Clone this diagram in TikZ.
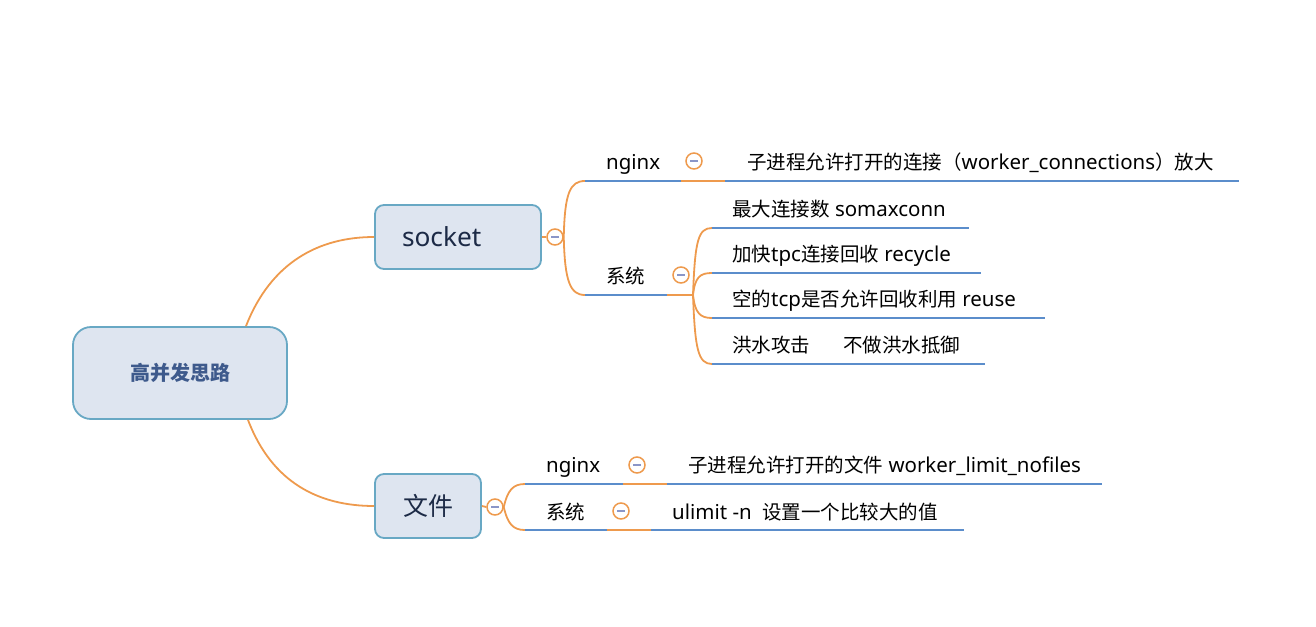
\documentclass[tikz,border=0pt]{standalone}
\usepackage{fontspec}
\setmainfont[Scale=1.05]{Noto Sans}
\newfontfamily\zh{Noto Sans CJK SC}
\usetikzlibrary{positioning}

\definecolor{linkorange}{RGB}{238,154,77}
\definecolor{lineblue}{RGB}{91,141,203}
\definecolor{boxfill}{RGB}{222,229,240}
\definecolor{boxedge}{RGB}{104,168,196}
\definecolor{roottext}{RGB}{62,90,140}
\definecolor{topictext}{RGB}{28,42,70}
\definecolor{minuscol}{RGB}{138,150,200}

\tikzset{
  rootbox/.style={draw=boxedge, fill=boxfill, line width=1.8pt, rounded corners=18pt,
    minimum width=214pt, minimum height=92pt, text=roottext,
    font=\fontsize{20}{24}\selectfont\zh\bfseries},
  topicbox/.style={draw=boxedge, fill=boxfill, line width=1.8pt, rounded corners=9pt,
    minimum height=64pt, inner xsep=27pt, text=topictext, align=left,
    font=\fontsize{25}{30}\selectfont},
  fold/.style={circle, draw=linkorange, fill=white, line width=1.5pt, minimum size=16pt,
    inner sep=0pt, path picture={\draw[minuscol, line width=1.6pt]
      ([xshift=-4pt]path picture bounding box.center) --
      ([xshift=4pt]path picture bounding box.center);}},
  leaf/.style={anchor=base west, inner sep=0pt, text=black,
    font=\fontsize{19.5}{23}\selectfont},
  branch/.style={draw=linkorange, line width=1.8pt},
  under/.style={draw=lineblue, line width=2pt},
}

\begin{document}
\begin{tikzpicture}[x=1pt,y=-1pt]
\useasboundingbox (0,0) rectangle (1316,626);

% main topics
\node[rootbox] (root) at (180,373) {高并发思路};
\node[topicbox, text width=112pt] (socket) at (458,237) {socket};
\node[topicbox, minimum width=106pt] (file) at (428,506) {\zh 文件};
\node[fold] (skfold) at (555,237) {};
\node[fold] (flfold) at (495,507) {};

\draw[branch] ([xshift=66pt]root.north) .. controls +(25,-64) and +(-55,0) .. (socket.west);
\draw[branch] ([xshift=68pt]root.south) .. controls +(24,63) and +(-55,0) .. (file.west);
\draw[branch] (socket.east) -- (skfold.west);
\draw[branch] (file.east) -- (flfold.west);

% socket -> nginx
\coordinate (sk-ngx) at (585,181);
\coordinate (sk-ngx-o) at (681,181);
\coordinate (sk-ngx-p) at (725,181);
\coordinate (sk-ngx-e) at (1239,181);
\node[leaf] (sk-ngx-t) at (606,169) {nginx};
\node[leaf] (sk-ngx-c) at (747,169) {{\zh 子进程允许打开的连接（}worker\_connections{\zh ）放大}};
\draw[branch] (skfold.east) .. controls +(1,-44) and +(-15,0) .. (sk-ngx);
\draw[under] (sk-ngx) -- (sk-ngx-o);
\draw[branch] (sk-ngx-o) -- (sk-ngx-p);
\draw[under] (sk-ngx-p) -- (sk-ngx-e);
\node[fold] (sk-ngx-f) at (694,161) {};

% socket -> 系统
\coordinate (sk-sys) at (585,295);
\coordinate (sk-sys-o) at (667,295);
\coordinate (sk-sys-p) at (693,295);
\node[leaf] (sk-sys-t) at (606,283) {\zh 系统};
\draw[branch] (skfold.east) .. controls +(1,44) and +(-15,0) .. (sk-sys);
\draw[under] (sk-sys) -- (sk-sys-o);
\draw[branch] (sk-sys-o) -- (sk-sys-p);
\node[fold] (sk-sys-f) at (681,275) {};

\coordinate (ka) at (712,228);
\coordinate (ka-e) at (969,228);
\coordinate (kb) at (712,273);
\coordinate (kb-e) at (981,273);
\coordinate (kc) at (712,318);
\coordinate (kc-e) at (1045,318);
\coordinate (kd) at (712,364);
\coordinate (kd-e) at (985,364);
\node[leaf] (ka-t) at (732,216) {{\zh 最大连接数} somaxconn};
\node[leaf] (kb-t) at (732,261) {{\zh 加快}tpc{\zh 连接回收} recycle};
\node[leaf] (kc-t) at (732,306) {{\zh 空的}tcp{\zh 是否允许回收利用} reuse};
\node[leaf] (kd-t) at (732,352) {\zh 洪水攻击\hspace{33pt}不做洪水抵御};
\draw[branch] (sk-sys-p) .. controls +(2,-54) and +(-14,0) .. (ka);
\draw[branch] (sk-sys-p) .. controls +(2,-18) and +(-12,0) .. (kb);
\draw[branch] (sk-sys-p) .. controls +(2,18) and +(-12,0) .. (kc);
\draw[branch] (sk-sys-p) .. controls +(2,54) and +(-14,0) .. (kd);
\draw[under] (ka) -- (ka-e);
\draw[under] (kb) -- (kb-e);
\draw[under] (kc) -- (kc-e);
\draw[under] (kd) -- (kd-e);

% 文件 -> nginx
\coordinate (fl-ngx) at (525,484);
\coordinate (fl-ngx-o) at (623,484);
\coordinate (fl-ngx-p) at (667,484);
\coordinate (fl-ngx-e) at (1102,484);
\node[leaf] (fl-ngx-t) at (546,472) {nginx};
\node[leaf] (fl-ngx-c) at (688,472) {{\zh 子进程允许打开的文件} worker\_limit\_nofiles};
\draw[branch] (flfold.east) .. controls +(4,-17) and +(-12,0) .. (fl-ngx);
\draw[under] (fl-ngx) -- (fl-ngx-o);
\draw[branch] (fl-ngx-o) -- (fl-ngx-p);
\draw[under] (fl-ngx-p) -- (fl-ngx-e);
\node[fold] (fl-ngx-f) at (637,465) {};

% 文件 -> 系统
\coordinate (fl-sys) at (525,530);
\coordinate (fl-sys-o) at (607,530);
\coordinate (fl-sys-p) at (651,530);
\coordinate (fl-sys-e) at (964,530);
\node[leaf] (fl-sys-t) at (546,519) {\zh 系统};
\node[leaf] (fl-sys-c) at (672,519) {ulimit -n\ \ {\zh 设置一个比较大的值}};
\draw[branch] (flfold.east) .. controls +(4,17) and +(-12,0) .. (fl-sys);
\draw[under] (fl-sys) -- (fl-sys-o);
\draw[branch] (fl-sys-o) -- (fl-sys-p);
\draw[under] (fl-sys-p) -- (fl-sys-e);
\node[fold] (fl-sys-f) at (621,511) {};
\end{tikzpicture}
\end{document}
